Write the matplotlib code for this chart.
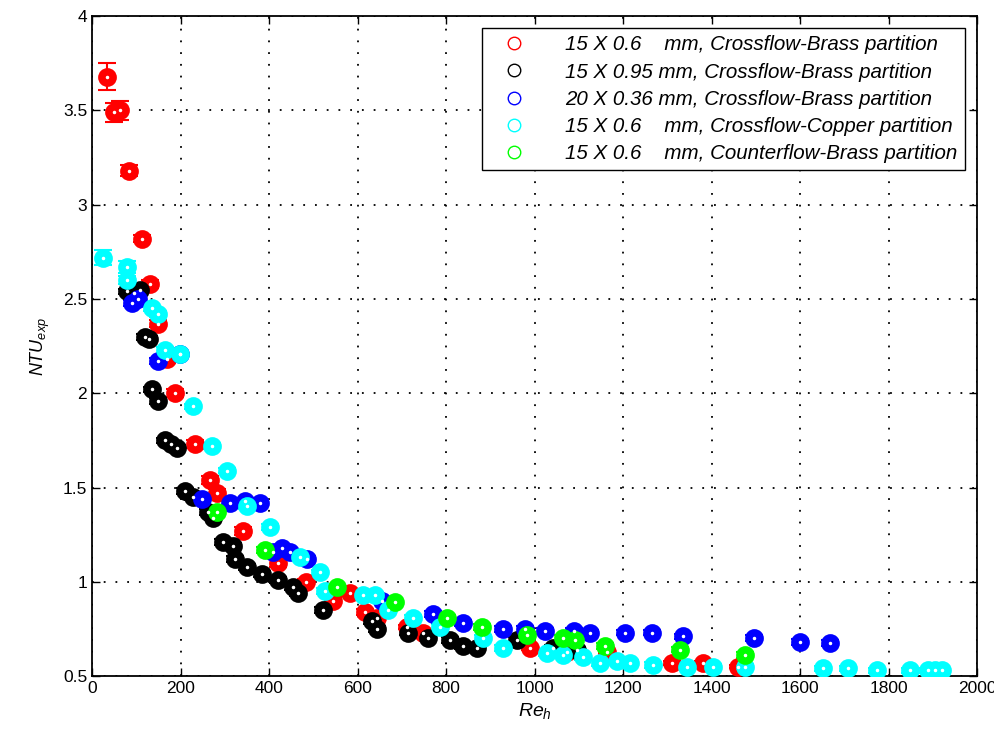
import matplotlib
matplotlib.use("Agg")
import matplotlib.pyplot as plt
from matplotlib.lines import Line2D

plt.rcParams['font.family'] = ['Liberation Sans', 'DejaVu Sans']
plt.rcParams['mathtext.fontset'] = 'custom'
plt.rcParams['mathtext.it'] = 'Liberation Sans:italic'
plt.rcParams['mathtext.rm'] = 'Liberation Sans'

# ---------------- data ----------------
red_x = [34, 50, 63, 84, 113, 131, 149, 169, 188, 233, 267, 282, 341, 420, 483, 545, 583,
         617, 644, 711, 748, 990, 1073, 1164, 1311, 1381, 1460]
red_y = [3.68, 3.49, 3.50, 3.18, 2.82, 2.58, 2.37, 2.18, 2.00, 1.73, 1.54, 1.47, 1.27, 1.10,
         1.00, 0.90, 0.94, 0.84, 0.81, 0.76, 0.73, 0.65, 0.63, 0.63, 0.57, 0.57, 0.55]
red_e = [0.07, 0.05, 0.05, 0.03, 0.02, 0.02, 0.02, 0.02, 0.02, 0.02, 0.02, 0.02, 0.02, 0.02,
         0.015, 0.015, 0.015, 0.015, 0.015, 0.01, 0.01, 0.01, 0.01, 0.01, 0.01, 0.01, 0.01]

blk_x = [79, 95, 108, 120, 128, 136, 149, 165, 178, 192, 210, 228, 262, 273, 296, 319, 323,
         350, 384, 420, 455, 466, 522, 633, 644, 714, 759, 809, 838, 870, 960, 1042, 1096]
blk_y = [2.54, 2.53, 2.55, 2.30, 2.29, 2.02, 1.96, 1.75, 1.73, 1.71, 1.48, 1.45, 1.37, 1.34,
         1.21, 1.19, 1.12, 1.08, 1.04, 1.01, 0.97, 0.94, 0.85, 0.79, 0.75, 0.73, 0.70, 0.69,
         0.66, 0.65, 0.69, 0.65, 0.64]

blu_x = [90, 104, 149, 199, 249, 312, 346, 380, 409, 430, 447, 485, 655, 771, 838, 929, 979,
         1024, 1088, 1125, 1205, 1265, 1336, 1495, 1600, 1668]
blu_y = [2.48, 2.50, 2.17, 2.21, 1.44, 1.42, 1.43, 1.42, 1.16, 1.18, 1.16, 1.12, 0.90, 0.83,
         0.78, 0.75, 0.75, 0.74, 0.74, 0.73, 0.73, 0.73, 0.71, 0.70, 0.68, 0.675]

cyn_x = [25, 79, 80, 136, 150, 165, 199, 228, 271, 305, 350, 402, 470, 515, 527, 612, 640,
         669, 725, 786, 884, 929, 1028, 1065, 1110, 1148, 1186, 1216, 1268, 1345, 1403, 1476,
         1652, 1709, 1773, 1849, 1889, 1905, 1921]
cyn_y = [2.72, 2.67, 2.60, 2.45, 2.42, 2.23, 2.21, 1.93, 1.72, 1.59, 1.40, 1.29, 1.13, 1.05,
         0.95, 0.93, 0.93, 0.85, 0.81, 0.76, 0.70, 0.65, 0.62, 0.61, 0.60, 0.57, 0.58, 0.57,
         0.56, 0.55, 0.55, 0.55, 0.54, 0.54, 0.53, 0.53, 0.53, 0.53, 0.53]

grn_x = [282, 391, 553, 685, 802, 881, 983, 1065, 1092, 1159, 1329, 1476]
grn_y = [1.37, 1.17, 0.97, 0.89, 0.81, 0.76, 0.72, 0.70, 0.69, 0.66, 0.64, 0.61]

labels = ['15 X 0.6    mm, Crossflow-Brass partition',
          '15 X 0.95 mm, Crossflow-Brass partition',
          '20 X 0.36 mm, Crossflow-Brass partition',
          '15 X 0.6    mm, Crossflow-Copper partition',
          '15 X 0.6    mm, Counterflow-Brass partition']

x_ticks = [0, 200, 400, 600, 800, 1000, 1200, 1400, 1600, 1800, 2000]
y_ticks = [0.5, 1, 1.5, 2, 2.5, 3, 3.5, 4]
y_ticklabels = ['0.5', '1', '1.5', '2', '2.5', '3', '3.5', '4']

# ---------------- plot ----------------
fig = plt.figure(figsize=(9.95, 7.38), dpi=100)
ax = fig.add_axes([0.0925, 0.084, 0.8895, 0.894])

series = [
    (red_x, red_y, red_e, '#ff0000'),
    (blk_x, blk_y, [0.015] * len(blk_x), '#000000'),
    (blu_x, blu_y, [0.015] * len(blu_x), '#0000ff'),
    (cyn_x, cyn_y, [0.04, 0.03, 0.02] + [0.015] * (len(cyn_x) - 3), '#00ffff'),
    (grn_x, grn_y, [0.015] * len(grn_x), '#00ff00'),
]
for x, y, e, c in series:
    ax.errorbar(x, y, yerr=e, fmt='o', color=c, ms=12, mfc=c, mec=c, mew=1.5,
                elinewidth=1.5, capsize=6.5, capthick=1.5, zorder=3)
    ax.plot(x, y, '.', color='white', ms=3, zorder=4)

ax.set_xlim(0, 2000)
ax.set_ylim(0.5, 4)
ax.set_xticks(x_ticks)
ax.set_yticks(y_ticks)
ax.set_yticklabels(y_ticklabels)
ax.tick_params(direction='in', length=6, width=1, top=True, right=True, labelsize=12.5,
               colors='black')
for sp in ax.spines.values():
    sp.set_linewidth(1.3)
ax.grid(True, color='black', linestyle=(0, (1, 5.5)), linewidth=1.3)
ax.set_axisbelow(True)

ax.set_xlabel(r'$Re_h$', fontsize=14, labelpad=4)
ax.set_ylabel(r'$NTU_{exp}$', fontsize=13, labelpad=8)

handles = [Line2D([], [], linestyle='none', marker='o', mfc='none', mec=c, ms=9, mew=1)
           for c in ['#ff0000', '#000000', '#0000ff', '#00ffff', '#00ff00']]
leg = ax.legend(handles, labels, loc='upper right', bbox_to_anchor=(0.986, 0.982),
                prop={'family': 'Liberation Sans', 'style': 'italic', 'size': 14.8},
                frameon=True, fancybox=False, edgecolor='black', framealpha=1,
                borderpad=0.35, labelspacing=0.4, handlelength=2.4, handletextpad=1.3,
                borderaxespad=0)
leg.get_frame().set_linewidth(1)

fig.savefig('out.png', dpi=100)
